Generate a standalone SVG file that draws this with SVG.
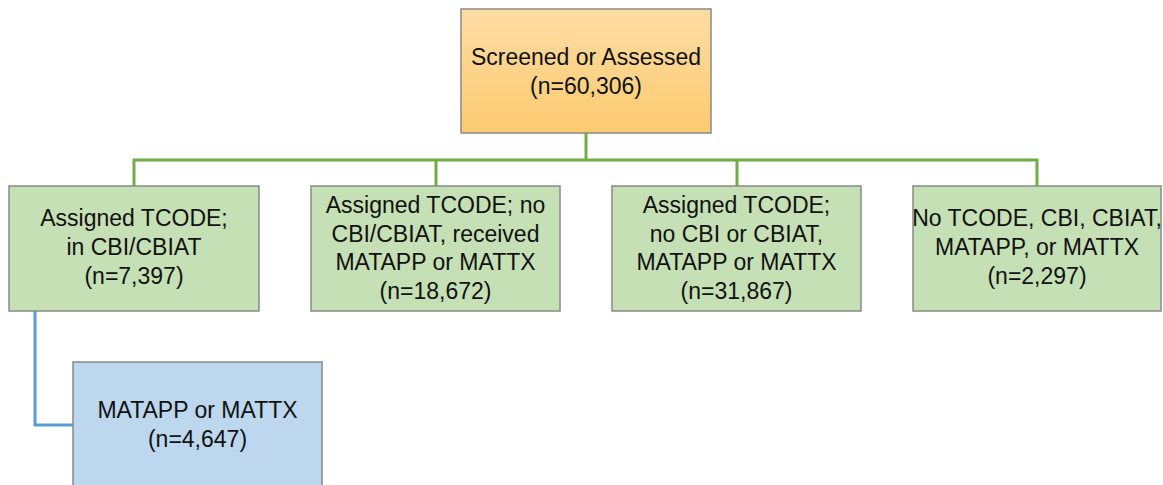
<svg xmlns="http://www.w3.org/2000/svg" width="1163" height="485" viewBox="0 0 1163 485">
  <defs>
    <linearGradient id="orangeGrad" x1="0" y1="0" x2="0" y2="1">
      <stop offset="0" stop-color="#fedca4"/>
      <stop offset="1" stop-color="#fccb70"/>
    </linearGradient>
    <style>
      .box { stroke: #898989; stroke-width: 1.5; }
      .green { fill: #c5e0b4; }
      .blue { fill: #bdd7ee; }
      .orange { fill: url(#orangeGrad); }
      .lbl { font-family: "Liberation Sans", Arial, sans-serif; font-size: 23px; fill: #111; text-anchor: middle; }
      .conn { fill: none; stroke-width: 3; stroke-linejoin: miter; }
      .g { stroke: #70ad47; }
      .b { stroke: #5b9bd5; }
    </style>
  </defs>
  <rect width="1163" height="485" fill="#ffffff"/>

  <g id="connectors">
    <path class="conn g" d="M586 133 V160"/>
    <path class="conn g" d="M134 186 V160 H1037 V186"/>
    <path class="conn g" d="M436 160 V186"/>
    <path class="conn g" d="M737 160 V186"/>
    <path class="conn b" d="M35 311 V425 H73"/>
  </g>

  <g id="node-screened">
    <rect class="box orange" x="461" y="9" width="250" height="124"/>
    <text class="lbl" x="586" y="65">Screened or Assessed</text>
    <text class="lbl" x="586" y="94">(n=60,306)</text>
  </g>

  <g id="node-cbi">
    <rect class="box green" x="9" y="186" width="250" height="125"/>
    <text class="lbl" x="134" y="226">Assigned TCODE;</text>
    <text class="lbl" x="134" y="255">in CBI/CBIAT</text>
    <text class="lbl" x="134" y="284">(n=7,397)</text>
  </g>

  <g id="node-received">
    <rect class="box green" x="311" y="186" width="249" height="125"/>
    <text class="lbl" x="435.5" y="213">Assigned TCODE; no</text>
    <text class="lbl" x="435.5" y="241.5">CBI/CBIAT, received</text>
    <text class="lbl" x="435.5" y="270">MATAPP or MATTX</text>
    <text class="lbl" x="435.5" y="298.5">(n=18,672)</text>
  </g>

  <g id="node-nocbi">
    <rect class="box green" x="612" y="186" width="249" height="125"/>
    <text class="lbl" x="736.5" y="213">Assigned TCODE;</text>
    <text class="lbl" x="736.5" y="241.5">no CBI or CBIAT,</text>
    <text class="lbl" x="736.5" y="270">MATAPP or MATTX</text>
    <text class="lbl" x="736.5" y="298.5">(n=31,867)</text>
  </g>

  <g id="node-none">
    <rect class="box green" x="913" y="186" width="248" height="125"/>
    <text class="lbl" x="1037" y="226">No TCODE, CBI, CBIAT,</text>
    <text class="lbl" x="1037" y="255">MATAPP, or MATTX</text>
    <text class="lbl" x="1037" y="284">(n=2,297)</text>
  </g>

  <g id="node-matapp">
    <rect class="box blue" x="73" y="362" width="249" height="140"/>
    <text class="lbl" x="197.5" y="418">MATAPP or MATTX</text>
    <text class="lbl" x="197.5" y="447">(n=4,647)</text>
  </g>
</svg>
